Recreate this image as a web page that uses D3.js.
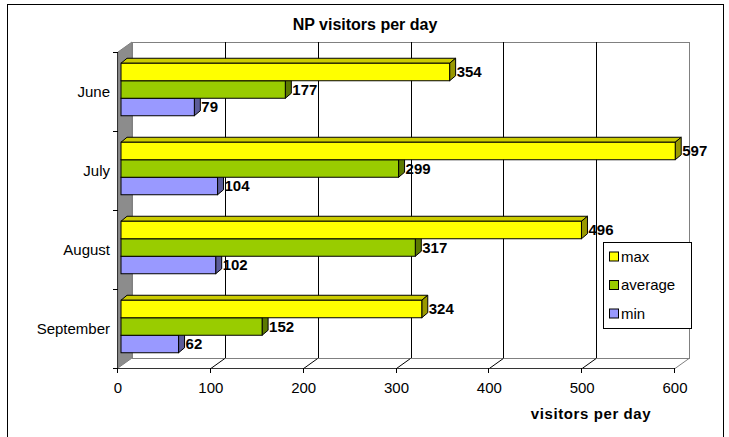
<!DOCTYPE html>
<html lang="en">

<head>
	<meta charset="utf-8" />
	<title>NP visitors per day</title>
	<script src="https://d3js.org/d3.v7.min.js"></script>
	<style>
		body { margin: 0; background: #fff; }
		text { font-family: "Liberation Sans", Arial, sans-serif; }
	</style>
</head>

<body>
	<div id="my_dataviz"></div>

	<script>
		// data
		var months = ["June", "July", "August", "September"];
		var seriesNames = ["max", "average", "min"];
		var maxValues = [354, 597, 496, 324];
		var avgValues = [177, 299, 317, 152];
		var minValues = [79, 104, 102, 62];
		var xTicks = [0, 100, 200, 300, 400, 500, 600];

		var seriesValues = { max: maxValues, average: avgValues, min: minValues };

		// colours: front, top, side
		var colors = {
			max: ["#FFFF00", "#CCCC00", "#999900"],
			average: ["#99CC00", "#7AA300", "#5C7A00"],
			min: ["#9999FF", "#7A7ACC", "#5C5C99"]
		};

		var W = 729, H = 437;
		// depth offsets (3D look)
		var wallDX = 14, wallDY = -10;
		var barDX = 3, barDY = -2;
		var depthDX = 6, depthDY = -5;

		var svg = d3.select("#my_dataviz")
			.append("svg")
			.attr("width", W)
			.attr("height", H);

		// outer border
		svg.append("rect")
			.attr("x", 7.5).attr("y", 4.5)
			.attr("width", 716).attr("height", 440)
			.attr("fill", "#fff")
			.attr("stroke", "#000")
			.attr("stroke-width", 1);

		// scales
		var x = d3.scaleLinear()
			.domain([0, 600])
			.range([118, 675]);

		var y = d3.scaleBand()
			.domain(months)
			.range([52, 368]);

		var groupH = 52.5;
		var inner = d3.scaleBand()
			.domain(seriesNames)
			.range([0, groupH]);

		var yTop = y.range()[0], yBottom = y.range()[1];

		// back wall
		svg.append("rect")
			.attr("x", x(0) + wallDX + 0.5)
			.attr("y", yTop + wallDY + 0.5)
			.attr("width", x(600) - x(0))
			.attr("height", yBottom - yTop)
			.attr("fill", "#fff")
			.attr("stroke", "#808080");

		// gridlines on back wall
		svg.append("g")
			.selectAll("line")
			.data(xTicks.slice(1, -1))
			.enter()
			.append("line")
			.attr("x1", function(d) { return Math.round(x(d) + wallDX) + 0.5; })
			.attr("x2", function(d) { return Math.round(x(d) + wallDX) + 0.5; })
			.attr("y1", yTop + wallDY)
			.attr("y2", yBottom + wallDY)
			.attr("stroke", "#000");

		// floor: diagonal lines from front ticks to back
		svg.append("g")
			.selectAll("line")
			.data(xTicks.slice(1))
			.enter()
			.append("line")
			.attr("x1", function(d) { return x(d); })
			.attr("y1", yBottom + 0.5)
			.attr("x2", function(d) { return x(d) + wallDX; })
			.attr("y2", yBottom + wallDY + 0.5)
			.attr("stroke", function(d) { return d === 600 ? "#808080" : "#000"; });

		// left side wall
		svg.append("polygon")
			.attr("points", [
				[x(0), yTop], [x(0) + wallDX, yTop + wallDY],
				[x(0) + wallDX, yBottom + wallDY], [x(0), yBottom]
			].join(" "))
			.attr("fill", "#8c8c8c")
			.attr("stroke", "#808080");

		// bars
		var bars = [];
		months.forEach(function(m, i) {
			seriesNames.slice().reverse().forEach(function(s) {
				bars.push({ month: m, series: s, value: seriesValues[s][i] });
			});
		});

		var barG = svg.append("g");
		bars.forEach(function(d) {
			var x0 = x(0) + barDX;
			var x1 = x(d.value) + barDX;
			var y0 = y(d.month) + (y.bandwidth() - groupH) / 2 + barDY + inner(d.series);
			var h = inner.bandwidth();
			var c = colors[d.series];
			var g = barG.append("g");
			// top face
			g.append("polygon")
				.attr("points", [[x0, y0], [x0 + depthDX, y0 + depthDY], [x1 + depthDX, y0 + depthDY], [x1, y0]].join(" "))
				.attr("fill", c[1]).attr("stroke", "#000").attr("stroke-linejoin", "round");
			// side face
			g.append("polygon")
				.attr("points", [[x1, y0], [x1 + depthDX, y0 + depthDY], [x1 + depthDX, y0 + h + depthDY], [x1, y0 + h]].join(" "))
				.attr("fill", c[2]).attr("stroke", "#000").attr("stroke-linejoin", "round");
			// front face
			g.append("rect")
				.attr("x", x0).attr("y", y0)
				.attr("width", x1 - x0).attr("height", h)
				.attr("fill", c[0]).attr("stroke", "#000");
			// value label
			g.append("text")
				.attr("x", x1 + depthDX + 1)
				.attr("y", y0 + h / 2)
				.attr("dy", "0.36em")
				.style("font-size", "15px")
				.style("font-weight", "bold")
				.text(d.value);
		});

		// front axis lines
		svg.append("line")
			.attr("x1", x(0)).attr("x2", x(600))
			.attr("y1", yBottom + 0.5).attr("y2", yBottom + 0.5)
			.attr("stroke", "#333");
		svg.append("line")
			.attr("x1", x(0) - 0.5).attr("x2", x(0) - 0.5)
			.attr("y1", yTop).attr("y2", yBottom)
			.attr("stroke", "#333");

		// x ticks and labels
		var xAxis = svg.append("g");
		xAxis.selectAll("line")
			.data(xTicks)
			.enter()
			.append("line")
			.attr("x1", function(d) { return Math.round(x(d)) - 0.5; })
			.attr("x2", function(d) { return Math.round(x(d)) - 0.5; })
			.attr("y1", yBottom).attr("y2", yBottom + 5)
			.attr("stroke", "#000");
		xAxis.selectAll("text")
			.data(xTicks)
			.enter()
			.append("text")
			.attr("x", function(d) { return x(d); })
			.attr("y", 393)
			.attr("text-anchor", "middle")
			.style("font-size", "15px")
			.text(function(d) { return d; });

		// y ticks and labels
		var yEdges = months.map(function(m) { return y(m); }).concat([yBottom]);
		svg.append("g")
			.selectAll("line")
			.data(yEdges)
			.enter()
			.append("line")
			.attr("x1", x(0) - 5).attr("x2", x(0))
			.attr("y1", function(d) { return Math.round(d) + 0.5; })
			.attr("y2", function(d) { return Math.round(d) + 0.5; })
			.attr("stroke", "#000");
		svg.append("g")
			.selectAll("text")
			.data(months)
			.enter()
			.append("text")
			.attr("x", 110)
			.attr("y", function(d) { return y(d) + y.bandwidth() / 2; })
			.attr("dy", "0.36em")
			.attr("text-anchor", "end")
			.style("font-size", "15px")
			.text(function(d) { return d; });

		// titles
		svg.append("text")
			.attr("x", 365).attr("y", 30)
			.attr("text-anchor", "middle")
			.style("font-size", "16px")
			.style("font-weight", "bold")
			.text("NP visitors per day");

		svg.append("text")
			.attr("x", 591).attr("y", 419)
			.attr("text-anchor", "middle")
			.style("font-size", "15px")
			.style("font-weight", "bold")
			.style("letter-spacing", "0.6px")
			.text("visitors per day");

		// legend
		var legend = svg.append("g").attr("transform", "translate(603,242)");
		legend.append("rect")
			.attr("x", 0.5).attr("y", 0.5)
			.attr("width", 88).attr("height", 86)
			.attr("fill", "#fff")
			.attr("stroke", "#000");
		var item = legend.selectAll(".item")
			.data(seriesNames)
			.enter()
			.append("g")
			.attr("transform", function(d, i) { return "translate(0," + (14.5 + i * 28.5) + ")"; });
		item.append("rect")
			.attr("x", 6.5).attr("y", -4.5)
			.attr("width", 9).attr("height", 9)
			.attr("fill", function(d) { return colors[d][0]; })
			.attr("stroke", "#000");
		item.append("text")
			.attr("x", 18)
			.attr("dy", "0.36em")
			.style("font-size", "15px")
			.text(function(d) { return d; });
	</script>
</body>

</html>
